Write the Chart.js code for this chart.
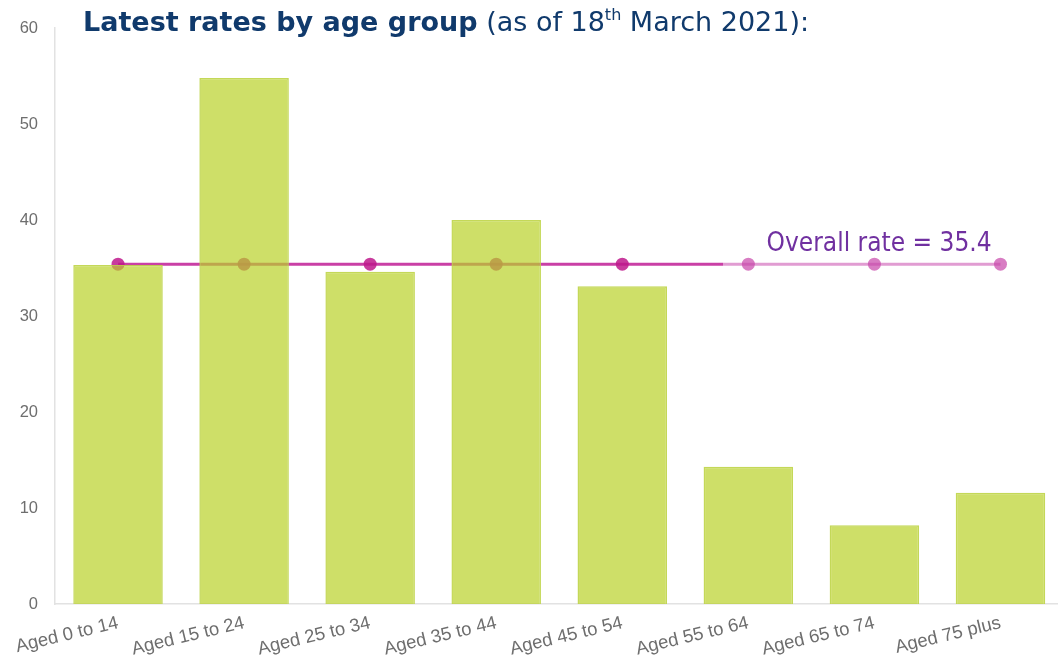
<!DOCTYPE html>
<html>
<head>
    <style>
        body { margin: 0; background: #fff; overflow: hidden; }
        #wrap { position: relative; width: 1058px; height: 659px; overflow: hidden; }
        canvas { display: block; }
        #title {
            position: absolute; left: 83px; top: 6px;
            font-family: "DejaVu Sans", sans-serif; font-size: 27px;
            color: #103a6c; white-space: nowrap;
        }
        #title b { font-weight: bold; }
        #title sup { font-size: 16px; vertical-align: 11px; line-height: 0; }
    </style>
    <script src="https://cdn.jsdelivr.net/npm/chart.js"></script>
</head>
<body>
    <div id="wrap">
        <!-- a little wider than the window: the last bar runs off the right edge -->
        <canvas id="ageChart" width="1070" height="659"></canvas>
        <div id="title"><b>Latest rates by age group</b> (as of 18<sup>th</sup> March 2021):</div>
    </div>

    <script>
        // data
        const ageGroups = ['Aged 0 to 14', 'Aged 15 to 24', 'Aged 25 to 34', 'Aged 35 to 44',
                           'Aged 45 to 54', 'Aged 55 to 64', 'Aged 65 to 74', 'Aged 75 plus'];
        const rates = [35.3, 54.8, 34.6, 40.0, 33.1, 14.3, 8.2, 11.6];
        const overallRate = 35.4;
        const overallLine = ageGroups.map(() => overallRate);
        const yTicks = [0, 10, 20, 30, 40, 50, 60];

        const darkPink = 'rgba(192, 30, 150, 0.85)';
        const lightPink = 'rgba(205, 90, 180, 0.6)';

        // the line fades after the 5th group, roughly 0.8 of the way to the 6th
        function lineColour(ctx) {
            const chart = ctx.chart;
            const area = chart.chartArea;
            if (!area) return darkPink;
            const sx = chart.scales.x;
            const cut = (sx.getPixelForValue(4.8) - area.left) / (area.right - area.left);
            const g = chart.ctx.createLinearGradient(area.left, 0, area.right, 0);
            g.addColorStop(0, darkPink);
            g.addColorStop(cut, darkPink);
            g.addColorStop(cut, lightPink);
            g.addColorStop(1, lightPink);
            return g;
        }

        const rateLabel = {
            id: 'rateLabel',
            afterDatasetsDraw(chart) {
                const c = chart.ctx;
                const y = chart.scales.y.getPixelForValue(overallRate);
                const x = chart.scales.x.getPixelForValue(6.93);
                c.save();
                c.font = '26px "DejaVu Sans Condensed", "DejaVu Sans", sans-serif';
                c.fillStyle = '#7030a0';
                c.textAlign = 'right';
                c.textBaseline = 'alphabetic';
                c.fillText('Overall rate = ' + overallRate, x, y - 13);
                c.restore();
            }
        };

        const ctx = document.getElementById('ageChart').getContext('2d');
        new Chart(ctx, {
            data: {
                labels: ageGroups,
                datasets: [{
                    type: 'bar',
                    data: rates,
                    backgroundColor: 'rgba(185, 210, 40, 0.7)',
                    borderColor: 'rgba(190, 212, 70, 0.9)',
                    borderWidth: 1.5,
                    barPercentage: 0.71,
                    categoryPercentage: 1,
                    order: 0
                }, {
                    type: 'line',
                    data: overallLine,
                    borderColor: lineColour,
                    borderWidth: 3,
                    pointRadius: 6.5,
                    pointBorderWidth: 0,
                    pointBackgroundColor: (c) => c.dataIndex >= 5 ? 'rgba(200, 70, 170, 0.7)' : 'rgba(190, 25, 140, 0.85)',
                    order: 1
                }]
            },
            options: {
                responsive: false,
                animation: false,
                layout: { padding: { top: 28, right: 0, left: 0, bottom: 0 } },
                plugins: { legend: { display: false }, tooltip: { enabled: false } },
                scales: {
                    x: {
                        grid: { display: false },
                        border: { display: true, color: '#e2e2e2', width: 1.5 },
                        ticks: {
                            color: '#6e6e6e',
                            font: { family: 'Liberation Sans', size: 18.5 },
                            minRotation: 13.5, maxRotation: 13.5,
                            padding: 0
                        },
                        afterFit(s) { s.height = 55; }
                    },
                    y: {
                        min: 0, max: 60,
                        afterBuildTicks(s) { s.ticks = yTicks.map(v => ({ value: v })); },
                        grid: { display: false },
                        border: { display: true, color: '#e2e2e2', width: 1.5 },
                        ticks: {
                            color: '#6e6e6e',
                            font: { family: 'Liberation Sans', size: 16.5 },
                            padding: 9
                        },
                        afterFit(s) { s.width = 55; }
                    }
                }
            },
            plugins: [rateLabel]
        });
    </script>
</body>
</html>
